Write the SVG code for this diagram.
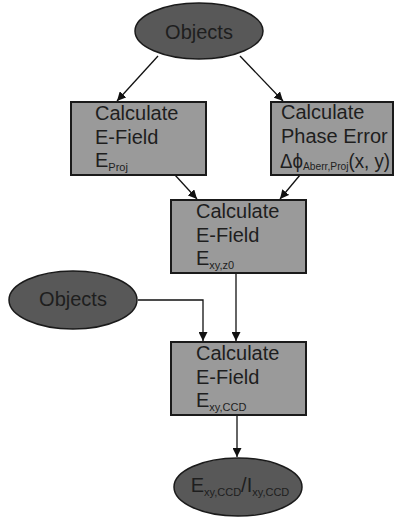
<svg xmlns="http://www.w3.org/2000/svg" width="397" height="521" viewBox="0 0 397 521">
<defs>
<marker id="ah" viewBox="0 0 10 10" refX="10" refY="5" markerWidth="9" markerHeight="9" markerUnits="userSpaceOnUse" orient="auto">
<path d="M0,0 L10,5 L0,10 z" fill="#111"/>
</marker>
<style>
.ell{fill:#585858;stroke:#1a1a1a;stroke-width:1.5}
.box{fill:#9a9a9a;stroke:#1a1a1a;stroke-width:2}
.t{font-family:"Liberation Sans",Arial,sans-serif;font-size:20px;fill:#1e1e1e}
.s{font-size:11px}
.c{fill:none;stroke:#111;stroke-width:1.3;marker-end:url(#ah)}
</style>
</defs>
<rect width="397" height="521" fill="#fff"/>
<g id="connectors">
<line class="c" x1="158" y1="56" x2="117" y2="101"/>
<line class="c" x1="240" y1="56" x2="283" y2="101"/>
<line class="c" x1="175" y1="175" x2="197" y2="199"/>
<line class="c" x1="300" y1="175" x2="280" y2="199"/>
<line class="c" x1="236" y1="273" x2="236" y2="341"/>
<polyline class="c" points="138,300 203,300 203,341"/>
<line class="c" x1="237" y1="415" x2="237" y2="457"/>
</g>
<g id="objects-top">
<ellipse class="ell" cx="199" cy="31" rx="64" ry="28"/>
<text class="t" x="199" y="39" text-anchor="middle">Objects</text>
</g>
<g id="efield-proj">
<rect class="box" x="71" y="102" width="135" height="73"/>
<text class="t" x="95" y="120">Calculate</text>
<text class="t" x="95" y="144">E-Field</text>
<text class="t" x="95" y="167">E<tspan class="s" dy="4">Proj</tspan></text>
</g>
<g id="phase-error">
<rect class="box" x="271" y="102" width="122" height="73"/>
<text class="t" x="281" y="119">Calculate</text>
<text class="t" x="281" y="143">Phase Error</text>
<text class="t" x="280" y="168" textLength="110" lengthAdjust="spacingAndGlyphs">Δϕ<tspan class="s" dy="2">Aberr,Proj</tspan><tspan dy="-2">(x, y)</tspan></text>
</g>
<g id="efield-z0">
<rect class="box" x="171" y="200" width="135" height="73"/>
<text class="t" x="196" y="218">Calculate</text>
<text class="t" x="196" y="242">E-Field</text>
<text class="t" x="196" y="265">E<tspan class="s" dy="4">xy,z0</tspan></text>
</g>
<g id="objects-left">
<ellipse class="ell" cx="73" cy="300" rx="64" ry="29"/>
<text class="t" x="73" y="306" text-anchor="middle">Objects</text>
</g>
<g id="efield-ccd">
<rect class="box" x="171" y="342" width="135" height="73"/>
<text class="t" x="196" y="360">Calculate</text>
<text class="t" x="196" y="384">E-Field</text>
<text class="t" x="196" y="407">E<tspan class="s" dy="4">xy,CCD</tspan></text>
</g>
<g id="result">
<ellipse class="ell" cx="238" cy="487" rx="64" ry="29"/>
<text class="t" x="240" y="492" text-anchor="middle">E<tspan class="s" dy="4">xy,CCD</tspan><tspan dy="-4">/I</tspan><tspan class="s" dy="4">xy,CCD</tspan></text>
</g>
</svg>
